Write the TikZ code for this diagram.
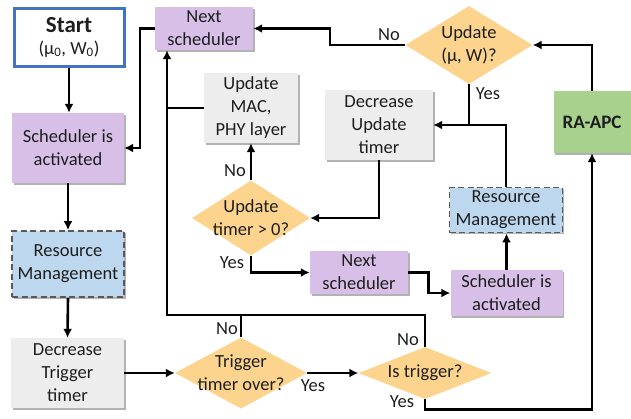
\documentclass[tikz,border=0pt]{standalone}
\usepackage{fontspec}
\setmainfont{Carlito}
\usetikzlibrary{shapes.geometric,arrows.meta,shadows}
\definecolor{purp}{RGB}{216,191,232}
\definecolor{orng}{RGB}{252,212,142}
\definecolor{blu}{RGB}{189,215,238}
\definecolor{gry}{RGB}{237,237,237}
\definecolor{grn}{RGB}{169,209,142}
\definecolor{stb}{RGB}{68,114,196}
\definecolor{txt}{RGB}{30,30,30}
\begin{document}
\begin{tikzpicture}[x=1pt,y=-1pt,
  every node/.style={font=\fontsize{18.5}{23}\selectfont, text=txt, align=center, inner sep=0pt},
  shd/.style={drop shadow={shadow xshift=1.5pt, shadow yshift=-1.5pt, opacity=0.3, fill=black}},
  pbox/.style={shd, fill=purp},
  gbox/.style={shd, fill=gry},
  rbox/.style={shd, fill=blu, draw=black!65, line width=1.8pt, dash pattern=on 6pt off 3.5pt},
  dia/.style={diamond, fill=orng, inner sep=0pt},
  lbl/.style={font=\fontsize{18.5}{23}\selectfont},
  ln/.style={line width=2.6pt, draw=black},
  arr/.style={ln, -{Latex[length=9pt,width=9pt]}}]
\useasboundingbox (0,0) rectangle (631,418);
% boxes
\node[draw=stb, line width=3pt, fill=white, minimum width=110pt, minimum height=58pt] (start) at (69,37)
  {{\fontsize{23}{26}\selectfont\bfseries Start}\\[-1pt](μ\textsubscript{0}, W\textsubscript{0})};
\node[pbox, minimum width=112pt, minimum height=70pt] (sch1) at (68,148) {Scheduler is\\activated};
\node[rbox, minimum width=112pt, minimum height=66pt] (rm1) at (68,264) {Resource\\Management};
\node[gbox, minimum width=113pt, minimum height=70pt] (dect) at (67.5,373) {Decrease\\Trigger\\timer};
\node[pbox, minimum width=98pt, minimum height=43pt] (next1) at (204,28.5) {Next\\scheduler};
\node[gbox, minimum width=94pt, minimum height=70pt] (mac) at (251,108) {Update\\MAC,\\PHY layer};
\node[gbox, minimum width=108pt, minimum height=70pt] (decu) at (379,125) {Decrease\\Update\\timer};
\node[shd, fill=grn, minimum width=77pt, minimum height=62pt, font=\fontsize{19}{23}\selectfont\bfseries] (ra) at (592,122) {RA-APC};
\node[pbox, minimum width=98pt, minimum height=43pt] (next2) at (359,272.5) {Next\\scheduler};
\node[pbox, minimum width=112pt, minimum height=46pt] (sch2) at (506.5,293) {Scheduler is\\activated};
\node[rbox, minimum width=113pt, minimum height=45pt] (rm2) at (506,210) {Resource\\Management};
% diamonds
\node[dia, minimum width=127pt, minimum height=78pt] (upd) at (469,45) {};
\node (updt) at (upd) {Update\\(μ, W)?};
\node[dia, minimum width=118pt, minimum height=75pt] (utd) at (251,218) {};
\node (utdt) at (utd) {Update\\timer > 0?};
\node[dia, minimum width=132pt, minimum height=71pt] (trd) at (241,373) {};
\node (trdt) at (trd) {Trigger\\timer over?};
\node[dia, minimum width=133pt, minimum height=52pt] (isd) at (425,373) {};
\node (isdt) at (isd) {Is trigger?};
% helper coordinates
\coordinate (jL) at (167,315);
\coordinate (jR) at (425,315);
\coordinate (kn) at (330,0);
% connectors
\draw[arr] (start.south) -- (start.south |- sch1.north);
\draw[arr] (next1.west) -- ++(-15,0) |- (sch1.east);
\draw[arr] (sch1.south) -- (rm1.north);
\draw[arr] (rm1.south) -- (dect.north);
\draw[arr] (dect.east) -- (trd.west);
\draw[arr] (trd.east) -- (isd.west);
\draw[arr] (isd.north) -- (jR) -- (jL) -- (jL |- next1.south);
\draw[ln] (trd.north) -- (trd.north |- jL);
\draw[ln] (mac.west) -- (mac.west -| jL);
\draw[arr] (utd.north) -- (utd.north |- mac.south);
\draw[arr] (utd.south) |- (next2.west);
\draw[arr] (decu.south) |- (utd.east);
\draw[arr] (next2.east) -- ++(20,0) |- (sch2.west);
\draw[arr] (sch2.north) -- (sch2.north |- rm2.south);
\draw[arr] (rm2.north) |- (decu.east);
\draw[ln] (upd.south) -- (upd.south |- decu.east);
\draw[arr] (upd.west) -- (upd.west -| kn) |- (next1.east);
\draw[arr] (ra.north) |- (upd.east);
\draw[arr] (isd.south) -- ++(0,10) -| (ra.south);
% labels
\node[lbl] (l1) at (389,35) {No};
\node[lbl] (l2) at (488,94) {Yes};
\node[lbl] (l3) at (235,171) {No};
\node[lbl] (l4) at (232,263) {Yes};
\node[lbl] (l5) at (227,329) {No};
\node[lbl] (l6) at (313,386) {Yes};
\node[lbl] (l7) at (408,340) {No};
\node[lbl] (l8) at (402,402) {Yes};
\end{tikzpicture}
\end{document}
